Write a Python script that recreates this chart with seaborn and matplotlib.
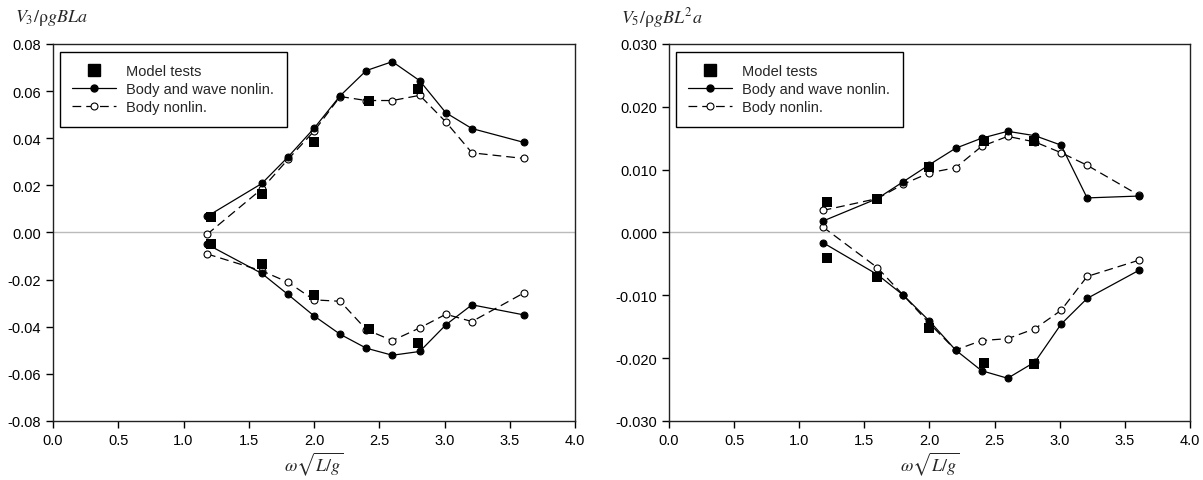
import matplotlib
matplotlib.use('Agg')
import matplotlib.pyplot as plt
import seaborn as sns
from matplotlib.lines import Line2D

# x values (omega*sqrt(L/g))
x_calc = [1.18, 1.6, 1.8, 2.0, 2.2, 2.4, 2.6, 2.81, 3.01, 3.21, 3.61]
x_model = [1.21, 1.6, 2.0, 2.42, 2.8]

# V3 - heave force
v3_wave_up = [0.0068, 0.0208, 0.0320, 0.0442, 0.0580, 0.0687, 0.0725, 0.0644, 0.0508, 0.0441, 0.0382]
v3_wave_lo = [-0.0050, -0.0174, -0.0263, -0.0354, -0.0432, -0.0491, -0.0521, -0.0505, -0.0392, -0.0307, -0.0350]
v3_body_up = [-0.0008, 0.0185, 0.0310, 0.0430, 0.0577, 0.0560, 0.0560, 0.0582, 0.0469, 0.0338, 0.0314]
v3_body_lo = [-0.0091, -0.0163, -0.0211, -0.0286, -0.0292, -0.0412, -0.0459, -0.0405, -0.0347, -0.0378, -0.0256]
v3_model_up = [0.0065, 0.0165, 0.0385, 0.0560, 0.0610]
v3_model_lo = [-0.0050, -0.0132, -0.0266, -0.0408, -0.0469]

# V5 - pitch moment
v5_wave_up = [0.0018, 0.0054, 0.0081, 0.0108, 0.0134, 0.0150, 0.0161, 0.0154, 0.0139, 0.0055, 0.0058]
v5_wave_lo = [-0.0016, -0.0067, -0.0100, -0.0141, -0.0187, -0.0220, -0.0232, -0.0206, -0.0146, -0.0105, -0.0060]
v5_body_up = [0.0035, 0.0054, 0.0077, 0.0095, 0.0103, 0.0137, 0.0153, 0.0144, 0.0127, 0.0107, 0.0059]
v5_body_lo = [0.0009, -0.0056, -0.0100, -0.0145, -0.0187, -0.0172, -0.0169, -0.0153, -0.0124, -0.0070, -0.0044]
v5_model_up = [0.0049, 0.0053, 0.0105, 0.0145, 0.0145]
v5_model_lo = [-0.0040, -0.0071, -0.0152, -0.0207, -0.0210]

sns.set_style('ticks')
plt.rcParams['font.family'] = ['Liberation Sans', 'DejaVu Sans']
plt.rcParams['mathtext.fontset'] = 'stix'

fig = plt.figure(figsize=(12.03, 4.81), dpi=100)
ax1 = fig.add_axes([0.0441, 0.1227, 0.4339, 0.7838])
ax2 = fig.add_axes([0.5561, 0.1227, 0.4331, 0.7838])

dash = (0, (7, 4))


def draw_panel(ax, wave_up, wave_lo, body_up, body_lo, model_up, model_lo, ylim, yticks, fmt, ylabel, lab_x):
    ax.axhline(0, color='#bbbbbb', lw=1.0, zorder=0)
    for body in [body_up, body_lo]:
        sns.lineplot(x=x_calc, y=body, ax=ax, color='black', lw=0.9, linestyle=dash,
                     marker='o', markersize=5, markerfacecolor='white',
                     markeredgecolor='black', markeredgewidth=0.8,
                     sort=False, estimator=None, legend=False)
    for wave in [wave_up, wave_lo]:
        sns.lineplot(x=x_calc, y=wave, ax=ax, color='black', lw=0.9,
                     marker='o', markersize=5, markerfacecolor='black',
                     markeredgecolor='black', sort=False, estimator=None, legend=False)
    for model in [model_up, model_lo]:
        sns.scatterplot(x=x_model, y=model, ax=ax, color='black', marker='s', s=60,
                        edgecolor='black', linewidth=0, zorder=5, legend=False)
    ax.set_xlim(0, 4.0)
    ax.set_ylim(*ylim)
    ax.set_xticks([0, 0.5, 1.0, 1.5, 2.0, 2.5, 3.0, 3.5, 4.0])
    ax.set_xticklabels([f'{v:.1f}' for v in ax.get_xticks()])
    ax.set_yticks(yticks)
    ax.set_yticklabels([fmt.format(v) for v in yticks])
    ax.tick_params(direction='out', length=5, width=1, labelsize=10.5, colors='black')
    for s in ax.spines.values():
        s.set_visible(True)
        s.set_color('#222222')
        s.set_linewidth(1.0)
    ax.set_xlabel(r'$\omega\sqrt{L/g}$', fontsize=13, labelpad=2)
    ax.set_ylabel('')
    ax.text(lab_x, 1.072, ylabel, transform=ax.transAxes, fontsize=13, ha='left', va='center')
    handles = [
        Line2D([], [], color='black', marker='s', markersize=8, linestyle='none'),
        Line2D([], [], color='black', lw=0.9, marker='o', markersize=5),
        Line2D([], [], color='black', lw=0.9, linestyle=dash, marker='o', markersize=5,
               markerfacecolor='white', markeredgewidth=0.8),
    ]
    leg = ax.legend(handles, ['Model tests', 'Body and wave nonlin.', 'Body nonlin.'],
                    loc='upper left', bbox_to_anchor=(0.0135, 0.979), fontsize=10.5,
                    frameon=True, fancybox=False, edgecolor='black', framealpha=1,
                    handlelength=3.0, handletextpad=0.7, borderpad=0.85, labelspacing=0.28,
                    borderaxespad=0)
    leg.get_frame().set_linewidth(1.0)


draw_panel(ax1, v3_wave_up, v3_wave_lo, v3_body_up, v3_body_lo, v3_model_up, v3_model_lo,
           (-0.08, 0.08), [-0.08, -0.06, -0.04, -0.02, 0.0, 0.02, 0.04, 0.06, 0.08],
           '{:.2f}', r'$V_3/\mathrm{\rho} gBLa$', -0.073)
draw_panel(ax2, v5_wave_up, v5_wave_lo, v5_body_up, v5_body_lo, v5_model_up, v5_model_lo,
           (-0.03, 0.03), [-0.03, -0.02, -0.01, 0.0, 0.01, 0.02, 0.03],
           '{:.3f}', r'$V_5/\mathrm{\rho} gBL^2a$', -0.092)

fig.savefig('out.png', dpi=100)
